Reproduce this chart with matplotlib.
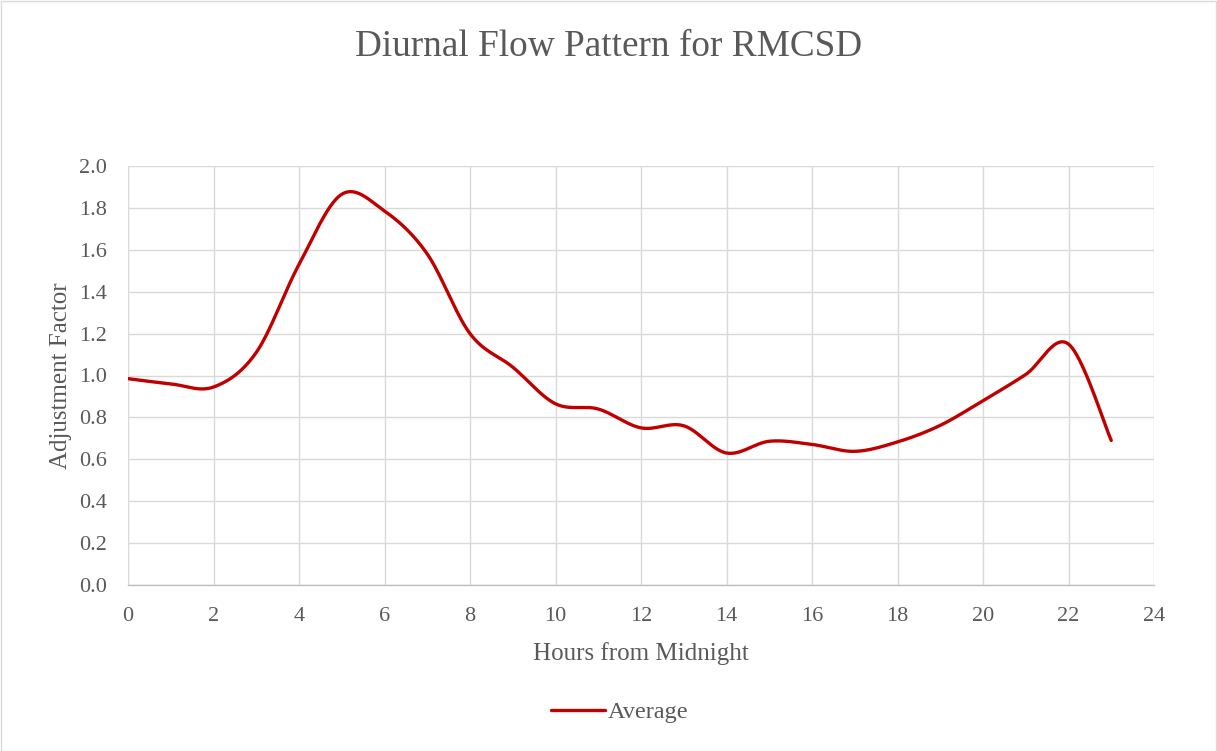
import numpy as np
import matplotlib
matplotlib.use("Agg")
import matplotlib.pyplot as plt
from matplotlib.patches import Rectangle

hours = list(range(24))
average = [0.985, 0.96, 0.945, 1.11, 1.53, 1.865, 1.785, 1.58, 1.20, 1.04,
           0.865, 0.84, 0.75, 0.76, 0.63, 0.686, 0.671, 0.638, 0.683, 0.762,
           0.88, 1.005, 1.15, 0.69]
x_ticks = list(range(0, 25, 2))
y_ticks = [0.0, 0.2, 0.4, 0.6, 0.8, 1.0, 1.2, 1.4, 1.6, 1.8, 2.0]

TEXT = "#595959"
plt.rcParams['font.family'] = ['Liberation Serif', 'DejaVu Serif']


def smooth(xs, ys, n=30):
    """Excel-like smoothed line: Bezier segments with Catmull-Rom controls."""
    xs = np.asarray(xs, float)
    ys = np.asarray(ys, float)
    P = np.column_stack([xs, ys])
    out = []
    for i in range(len(P) - 1):
        p0 = P[i - 1] if i > 0 else P[i]
        p1 = P[i]
        p2 = P[i + 1]
        p3 = P[i + 2] if i + 2 < len(P) else P[i + 1]
        c1 = p1 + (p2 - p0) / 6.0
        c2 = p2 - (p3 - p1) / 6.0
        t = np.linspace(0, 1, n)[:, None]
        seg = ((1 - t) ** 3) * p1 + 3 * ((1 - t) ** 2) * t * c1 + 3 * (1 - t) * t ** 2 * c2 + t ** 3 * p2
        if i > 0:
            seg = seg[1:]
        out.append(seg)
    arr = np.vstack(out)
    return arr[:, 0], arr[:, 1]


fig = plt.figure(figsize=(12.17, 7.51), dpi=100)
ax = fig.add_axes([128 / 1217, 1 - 585 / 751, (1154 - 128) / 1217, (585 - 166) / 751])

sx, sy = smooth(hours, average)
ax.plot(sx, sy, color="#C00000", lw=2.4, solid_capstyle="round", label="Average", zorder=3)

ax.set_xlim(0, 24)
ax.set_ylim(0, 2.0)
ax.set_xticks(x_ticks)
ax.set_yticks(y_ticks)
ax.set_yticklabels([f"{v:.1f}" for v in y_ticks])
ax.grid(True, color="#d9d9d9", lw=1.0)
ax.set_axisbelow(True)
for s in ["top", "right", "left"]:
    ax.spines[s].set_visible(False)
ax.spines["bottom"].set_color("#bfbfbf")
ax.spines["bottom"].set_linewidth(1.0)
ax.tick_params(axis="both", length=0, labelsize=16, labelcolor=TEXT)
ax.tick_params(axis="x", pad=15.5)
ax.tick_params(axis="y", pad=15)

ax.set_xlabel("Hours from Midnight", fontsize=18, color=TEXT, labelpad=12)
ax.set_ylabel("Adjustment Factor", fontsize=18, color=TEXT, labelpad=5)

fig.text(0.5, 1 - 47 / 751, "Diurnal Flow Pattern for RMCSD", ha="center", va="center",
         fontsize=26.8, color=TEXT)

leg = fig.legend(loc="center", bbox_to_anchor=(620 / 1217, 1 - 712 / 751), frameon=False,
                 fontsize=17.5, handlelength=2.2, handletextpad=0.15)
for t in leg.get_texts():
    t.set_color(TEXT)

fig.patches.append(Rectangle((0.5 / 1217, 0.5 / 751), 1 - 1.5 / 1217, 1 - 1.5 / 751,
                             transform=fig.transFigure, fill=False, edgecolor="#d9d9d9", lw=1))

fig.savefig("out.png", dpi=100, facecolor="white")
